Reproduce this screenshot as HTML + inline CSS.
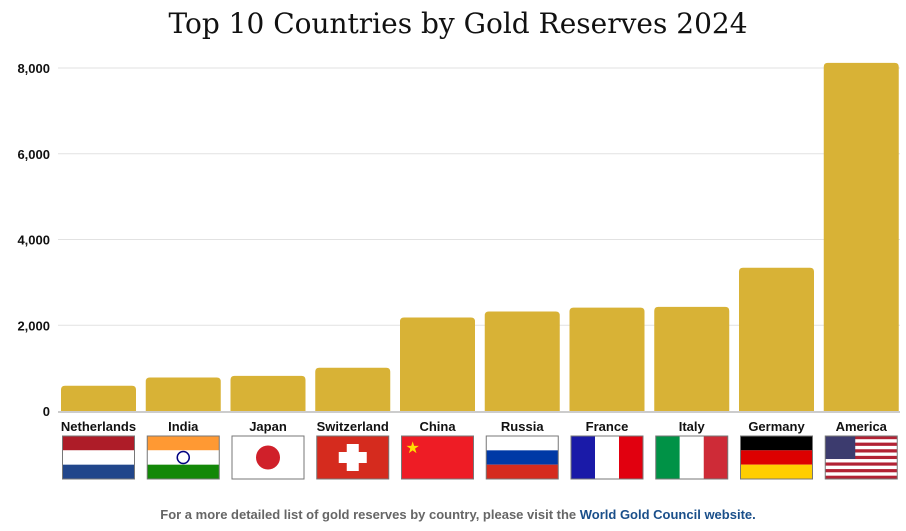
<!DOCTYPE html>
<html><head><meta charset="utf-8"><style>
body{margin:0;width:906px;height:526px;background:#fff;overflow:hidden;font-family:"Liberation Sans",sans-serif}
</style></head><body>
<svg id="c" width="906" height="526">
<text x="458" y="33" text-anchor="middle" font-family="DejaVu Serif, serif" font-size="28" fill="#111">Top 10 Countries by Gold Reserves 2024</text>
<g id="grid"></g><g id="bars"></g><g id="flags"></g>
<text x="458" y="519" text-anchor="middle" font-size="13" font-weight="bold" fill="#666">For a more detailed list of gold reserves by country, please visit the <tspan fill="#1a4f8a">World Gold Council website.</tspan></text>
</svg>
<script>
const categories=["Netherlands","India","Japan","Switzerland","China","Russia","France","Italy","Germany","America"];
const values=[590,780,820,1010,2180,2320,2410,2430,3340,8120];
const yTicks=[0,2000,4000,6000,8000];
const yTickLabels=["0","2,000","4,000","6,000","8,000"];
const NS="http://www.w3.org/2000/svg";
const y0=411,pxPer=343/8000,x0=61,step=84.75,bw=75;
const y=v=>y0-v*pxPer, x=i=>x0+i*step;
function mk(t,a,p){const e=document.createElementNS(NS,t);for(const k in a)e.setAttribute(k,a[k]);p.appendChild(e);return e;}
const grid=document.getElementById('grid'),bars=document.getElementById('bars'),flags=document.getElementById('flags');
yTicks.forEach((t,i)=>{
 if(t>0){const l=mk('line',{x1:58,x2:900,y1:y(t),y2:y(t),stroke:'#e2e2e2'},grid);
 
 }
 const tx=mk('text',{x:50,y:y(t)+5,'text-anchor':'end','font-size':13,'font-weight':'bold',fill:'#111'},grid);tx.textContent=yTickLabels[i];
 
 
});
const bl=mk('line',{x1:58,x2:900,y1:y0+1,y2:y0+1,stroke:'#ccc','stroke-width':2},grid);


function rr(xx,yy,w,h,r){return `M${xx},${yy+h}V${yy+r}Q${xx},${yy} ${xx+r},${yy}H${xx+w-r}Q${xx+w},${yy} ${xx+w},${yy+r}V${yy+h}Z`;}
categories.forEach((c,i)=>{
 const top=y(values[i]);
 const b=mk('path',{d:rr(x(i),top,bw,y0-top,4),fill:'#d8b236'},bars);
 
 
 const lb=mk('text',{x:x(i)+bw/2,y:431,'text-anchor':'middle','font-size':13,'font-weight':'bold',fill:'#111'},bars);lb.textContent=c;
 
 
 const g=mk('g',{transform:`translate(${x(i)+bw/2-36},436)`},flags);
 
 
 drawFlag(c,g);
});
function drawFlag(c,g){const W=72,H=43;
 const s=(cols,vert)=>cols.forEach((col,k)=>mk('rect',vert?{x:k*W/cols.length,y:0,width:W/cols.length,height:H,fill:col}:{x:0,y:k*H/cols.length,width:W,height:H/cols.length,fill:col},g));
 if(c=="Netherlands")s(["#ae1c28","#fff","#21468b"]);
 else if(c=="India"){s(["#ff9933","#fff","#138808"]);mk('circle',{cx:36,cy:21.5,r:6,fill:'none',stroke:'#000080','stroke-width':1.5},g);}
 else if(c=="Japan"){s(["#fff"]);mk('circle',{cx:36,cy:21.5,r:12,fill:'#d0202a'},g);}
 else if(c=="Switzerland"){s(["#d52b1e"]);mk('rect',{x:30,y:8,width:12,height:27,fill:'#fff'},g);mk('rect',{x:22,y:16,width:28,height:11,fill:'#fff'},g);}
 else if(c=="China"){s(["#ee1c25"]);mk('text',{x:4,y:17,'font-size':16,fill:'#ffde00'},g).textContent="★";}
 else if(c=="Russia")s(["#fff","#0039a6","#d52b1e"]);
 else if(c=="France")s(["#1a1aa8","#fff","#e1000f"],1);
 else if(c=="Italy")s(["#009246","#fff","#ce2b37"],1);
 else if(c=="Germany")s(["#000","#dd0000","#ffce00"]);
 else{for(let k=0;k<13;k++)mk('rect',{x:0,y:k*H/13,width:W,height:H/13,fill:k%2?'#fff':'#b22234'},g);mk('rect',{x:0,y:0,width:30,height:23,fill:'#3c3b6e'},g);}
 mk('rect',{x:0,y:0,width:W,height:H,fill:'none',stroke:'#777','stroke-width':1},g);
}
</script>
</body></html>
